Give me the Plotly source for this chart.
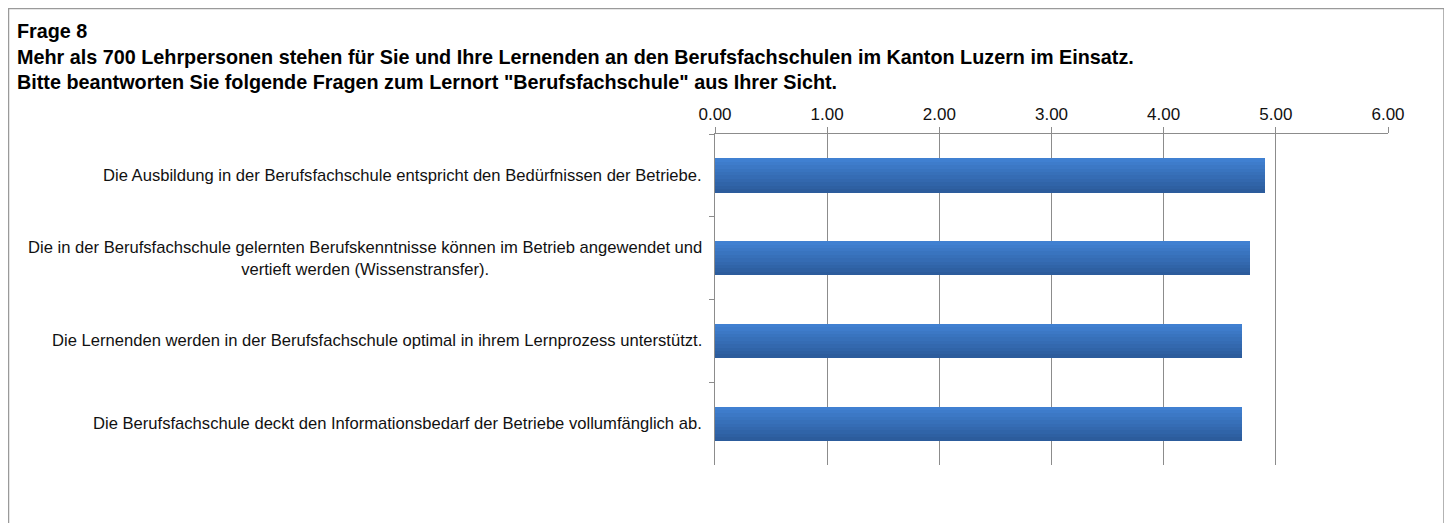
import plotly.graph_objects as go

# Survey question 8: mean ratings per statement (scale)
statements = [
    "Die Ausbildung in der Berufsfachschule entspricht den Bedürfnissen der Betriebe.",
    "Die in der Berufsfachschule gelernten Berufskenntnisse können im Betrieb angewendet und<br>vertieft werden (Wissenstransfer).",
    "Die Lernenden werden in der Berufsfachschule optimal in ihrem Lernprozess unterstützt.",
    "Die Berufsfachschule deckt den Informationsbedarf der Betriebe vollumfänglich ab.",
]
ratings = [4.90, 4.77, 4.70, 4.70]
tick_values = [0, 1, 2, 3, 4, 5, 6]
tick_labels = ["0.00", "1.00", "2.00", "3.00", "4.00", "5.00", "6.00"]

# the page body adds an 8px margin, so figure coords = picture coords - 8
W, H = 1452, 523
M_L, M_R, M_T, M_B = 707, 72, 126, 66
_FONT = "Liberation Sans, Arial, sans-serif"
_AXIS = "#8c8c8c"


def px_x(px):
    return (px - M_L) / (W - M_L - M_R)


def px_y(py):
    return 1 - (py - M_T) / (H - M_T - M_B)


fig = go.Figure()

# fake a vertical gradient (light top, dark bottom) with stacked thin slices
bar_w = 0.41
n_slices = 10
top_rgb = (64, 128, 209)
bot_rgb = (44, 92, 156)
for i in range(n_slices):
    t = i / (n_slices - 1)
    rgb = tuple(round(a + (b - a) * t) for a, b in zip(top_rgb, bot_rgb))
    fig.add_bar(
        y=statements,
        x=ratings,
        orientation="h",
        width=bar_w / n_slices + 0.002,
        offset=-bar_w / 2 + i * bar_w / n_slices,
        marker={"color": "rgb(%d,%d,%d)" % rgb, "line": {"width": 0}},
        showlegend=False,
        hoverinfo="skip" if i else None,
    )

for s in statements:
    fig.add_annotation(
        x=0,
        xref="paper",
        y=s,
        yref="y",
        text=s,
        showarrow=False,
        xanchor="right",
        align="center",
        xshift=-11,
        font={"family": _FONT, "size": 16.6, "color": "#111"},
    )

fig.update_layout(
    width=W,
    height=H,
    margin={"l": M_L, "r": M_R, "t": M_T, "b": M_B},
    plot_bgcolor="white",
    paper_bgcolor="white",
    barmode="overlay",
    bargap=0,
    font={"family": _FONT, "color": "#111"},
    title={
        "text": "<b>Frage 8<br>Mehr als 700 Lehrpersonen stehen für Sie und Ihre Lernenden an den Berufsfachschulen im Kanton Luzern im Einsatz.<br>"
        "Bitte beantworten Sie folgende Fragen zum Lernort \"Berufsfachschule\" aus Ihrer Sicht.</b>",
        "x": 9 / W,
        "xanchor": "left",
        "xref": "container",
        "y": 1 - 30 / H,
        "yanchor": "top",
        "yref": "container",
        "font": {"family": _FONT, "size": 19.8, "color": "#000"},
    },
    shapes=[
        {
            "type": "rect",
            "xref": "paper",
            "yref": "paper",
            "x0": px_x(0.5),
            "x1": px_x(1436),
            "y0": px_y(540),
            "y1": px_y(0.5),
            "line": {"color": "#9a9a9a", "width": 1.5},
            "layer": "below",
        }
    ],
)
fig.update_xaxes(
    side="top",
    range=[0, 6],
    tickvals=tick_values,
    ticktext=tick_labels,
    showgrid=True,
    gridcolor=_AXIS,
    gridwidth=1,
    showline=True,
    linecolor=_AXIS,
    ticks="outside",
    ticklen=6,
    tickcolor=_AXIS,
    tickfont={"family": _FONT, "size": 17, "color": "#111"},
    zeroline=False,
    fixedrange=True,
)
fig.update_yaxes(
    autorange="reversed",
    showticklabels=False,
    showline=True,
    linecolor=_AXIS,
    ticks="outside",
    tickson="boundaries",
    ticklen=5,
    tickcolor=_AXIS,
    showgrid=False,
    fixedrange=True,
)

fig.write_html("out.html")
